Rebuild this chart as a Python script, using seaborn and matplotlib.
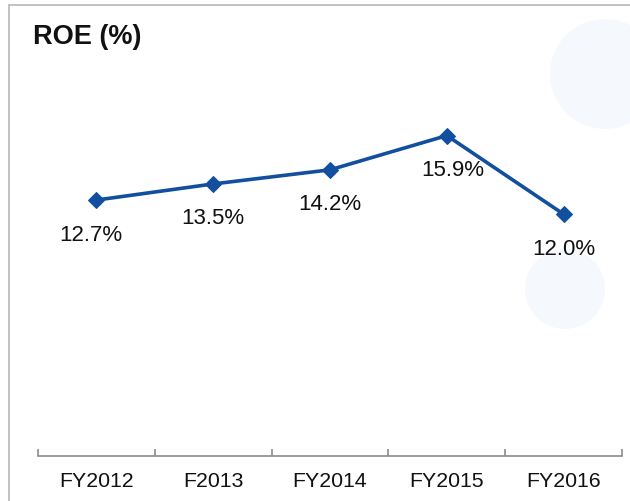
import matplotlib
matplotlib.use("Agg")
import matplotlib.pyplot as plt
from matplotlib.patches import Rectangle, Ellipse
import seaborn as sns
import pandas as pd
import numpy as np

years = ["FY2012", "F2013", "FY2014", "FY2015", "FY2016"]
roe = [12.7, 13.5, 14.2, 15.9, 12.0]
labels = ["12.7%", "13.5%", "14.2%", "15.9%", "12.0%"]

sns.set_style("white")
plt.rcParams["font.family"] = ["Liberation Sans", "DejaVu Sans"]

W, H = 630, 502
fig = plt.figure(figsize=(W / 100, H / 100), dpi=100)

# faint watermark on the right
for cx, cy, r in [(605, 75, 55), (565, 290, 40)]:
    fig.patches.append(Ellipse((cx / W, 1 - cy / H), 2 * r / W, 2 * r / H,
                               transform=fig.transFigure, facecolor="#f5f9fd",
                               edgecolor="none", zorder=-2))

# outer frame
fig.patches.append(Rectangle((9 / W, -0.1), 1.2, 1 - 6 / H + 0.1, transform=fig.transFigure,
                             facecolor="none", edgecolor="#b8b8b8", linewidth=1.2, zorder=-1))

ax = fig.add_axes([38 / W, 45 / H, (622 - 38) / W, (457 - 61) / H])
ax.patch.set_alpha(0)

df = pd.DataFrame({"year": years, "roe": roe})
sns.lineplot(data=df, x="year", y="roe", ax=ax, color="#124f9e", linewidth=2.6,
             marker="D", markersize=8.5, markeredgecolor="#124f9e")

for i, (v, t) in enumerate(zip(roe, labels)):
    dx = -6 if i == 0 else (6 if i == 3 else 0)
    ax.annotate(t, (i, v), xytext=(dx, -34), textcoords="offset pixels",
                ha="center", va="center", fontsize=16, color="#111111")

ax.set_xlim(-0.5, 4.5)
ax.set_ylim(0, 19.65)
ax.set_xlabel("")
ax.set_ylabel("")
ax.set_yticks([])
for s in ["top", "right", "left"]:
    ax.spines[s].set_visible(False)
ax.spines["bottom"].set_color("#8c8c8c")
ax.spines["bottom"].set_linewidth(1.2)

ax.set_xticks(range(len(years)))
ax.set_xticklabels(years, fontsize=15.3, color="#111111")
ax.tick_params(axis="x", which="major", bottom=True, length=0, pad=11)
ax.set_xticks(np.arange(-0.5, len(years)), minor=True)
ax.tick_params(axis="x", which="minor", bottom=True, direction="in", length=5,
               width=1.2, color="#8c8c8c")

fig.text(33 / W, 1 - 37 / H, "ROE (%)", fontsize=19.5, fontweight="bold",
         ha="left", va="center", color="#111111")

fig.savefig("out.png", dpi=100)
